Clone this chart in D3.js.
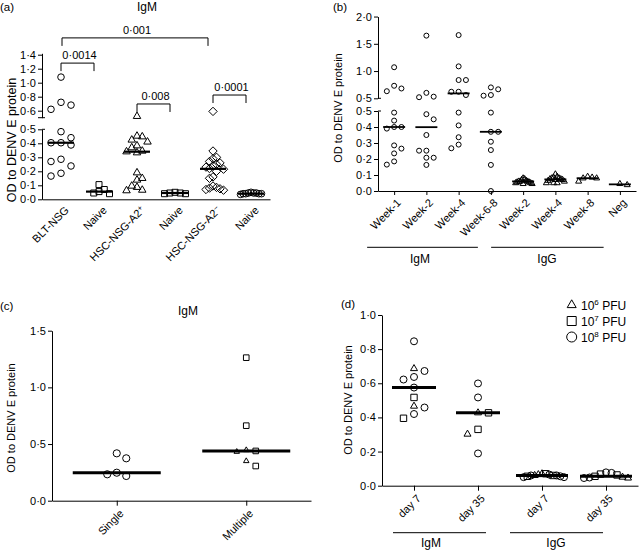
<!DOCTYPE html>
<html><head><meta charset="utf-8">
<script src="https://cdn.jsdelivr.net/npm/d3@7"></script>
<style>body{margin:0;background:#fff} svg text{font-family:"Liberation Sans",Arial,Helvetica,sans-serif;fill:#000}</style>
</head><body><svg id="c" width="640" height="550"></svg>
<script>
// ---------------- DATA ----------------
// Panel (a)
const aKeys = ["BLT","N1","A2p","N2","A2n","N3"];
const aLabels = ["BLT-NSG","Naive","HSC-NSG-A2^+","Naive","HSC-NSG-A2^\u2212","Naive"];
const aShapes = ["circle","square","triangle","square","diamond","circle"];
const aBLT   = [1.08,0.72,0.68,0.62,0.483,0.44,0.404,0.404,0.388,0.286,0.27,0.238,0.186,0.166];
const aNaive1 = [0.105,0.07,0.055,0.045,0.04];
const aA2pos = [0.52,0.452,0.447,0.424,0.41,0.383,0.369,0.345,0.34,0.333,0.19,0.15,0.138,0.095,0.086,0.066,0.062];
const aNaive2 = [0.05,0.045,0.045,0.04,0.04];
const aA2neg = [0.59,0.345,0.30,0.29,0.27,0.26,0.25,0.24,0.23,0.22,0.215,0.2,0.16,0.15,0.095,0.085,0.08,0.075,0.07,0.065];
const aNaive3 = [0.05,0.045,0.045,0.04,0.04,0.04,0.035,0.04,0.045];
const aTicksLow = [0,0.1,0.2,0.3,0.4,0.5];
const aTicksUp = [0.6,0.8,1.0,1.2,1.4];
const aPValues = [
  {from:"BLT", to:"A2n", level:1.64, label:"0\u00b7001"},
  {from:"BLT", to:"N1",  level:1.28, label:"0\u00b70014"},
  {from:"A2p", to:"N2",  level:0.696, label:"0\u00b7008"},
  {from:"A2n", to:"N3",  level:0.824, label:"0\u00b70001"}
];
// Panel (b)
const bKeys = ["mW1","mW2","mW4","mW68","gW2","gW4","gW8","neg"];
const bLabels = ["Week-1","Week-2","Week-4","Week-6-8","Week-2","Week-4","Week-8","Neg"];
const bShapes = ["circle","circle","circle","circle","triangle","triangle","triangle","triangle"];
const bW1 = [1.07,0.73,0.68,0.63,0.49,0.44,0.40,0.40,0.39,0.285,0.265,0.235,0.185,0.165];
const bW2 = [1.65,0.60,0.53,0.52,0.48,0.448,0.35,0.252,0.252,0.208,0.208,0.163];
const bW4 = [1.66,1.086,0.835,0.835,0.62,0.62,0.56,0.49,0.41,0.336,0.29,0.267];
const bW68 = [0.70,0.665,0.56,0.548,0.49,0.37,0.37,0.308,0.256,0.163,0.0];
const bG2 = [0.08,0.075,0.07,0.065,0.06,0.06,0.06,0.055,0.055,0.05,0.05,0.045,0.045];
const bG4 = [0.105,0.09,0.085,0.08,0.08,0.075,0.075,0.07,0.07,0.065,0.06,0.05,0.05,0.05];
const bG8 = [0.09,0.085,0.08,0.08,0.06];
const bNeg = [0.045,0.038];
const bTicksLow = [0,0.1,0.2,0.3,0.4,0.5];
const bTicksUp = [0.5,1.0,1.5,2.0];
// Panel (c)
const cKeys = ["Single","Multiple"];
const cSingleCircles = [0.418,0.374,0.247,0.233,0.218];
const cMultipleSquares = [1.262,0.662,0.439,0.306];
const cMultipleTriangles = [0.447,0.432,0.35];
const cTicks = [0,0.5,1.0,1.5];
// Panel (d)
const dKeys = ["mD7","mD35","gD7","gD35"];
const dLabels = ["day 7","day 35","day 7","day 35"];
const dPFU6 = [[0.686,0.466],[0.427,0.302],[0.07,0.065,0.06],[0.05,0.045]];          // triangles
const dPFU7 = [[0.517,0.395],[0.427,0.33],[0.07,0.06,0.055],[0.068,0.063,0.055]];     // squares
const dPFU8 = [[0.846,0.672,0.637,0.622,0.575,0.458,0.42],[0.599,0.517,0.189],
               [0.065,0.06,0.06,0.055,0.05,0.05],[0.078,0.075,0.048,0.045]];          // circles
const dTicks = [0,0.2,0.4,0.6,0.8,1.0];
const dLegend = [{shape:"triangle",exp:"6"},{shape:"square",exp:"7"},{shape:"circle",exp:"8"}];

// ---------------- HELPERS ----------------
const svg = d3.select("#c");
const fmt = v => d3.format(".1f")(v).replace(".", "\u00b7");

function shapePath(shape, sz){
  const p = d3.path();
  if (shape==="circle"){ const r=sz.circle; p.moveTo(r,0); p.arc(0,0,r,0,2*Math.PI); p.closePath(); }
  else if (shape==="square"){ const h=sz.square; p.rect(-h,-h,2*h,2*h); }
  else if (shape==="triangle"){ const a=sz.triangle, h=a*Math.sqrt(3)/2; p.moveTo(0,-2*h/3); p.lineTo(a/2,h/3); p.lineTo(-a/2,h/3); p.closePath(); }
  else if (shape==="diamond"){ const h=sz.diamond; p.moveTo(0,-h); p.lineTo(h,0); p.lineTo(0,h); p.lineTo(-h,0); p.closePath(); }
  return p.toString();
}

function swarm(pts, yOf, spacing, maxHalf, minDy){
  const items = pts.map(p=>({...p, py:yOf(p.v)})).sort((a,b)=>a.py-b.py);
  const placed=[]; let side=1;
  items.forEach(it=>{
    for (let k=0;k<60;k++){
      const cands = k===0?[0]:[side*k,-side*k];
      let chosen=null;
      for (const c of cands){ if(!placed.some(q=>q.col===c && Math.abs(q.py-it.py)<minDy)){chosen=c;break;} }
      if (chosen!==null){ it.col=chosen; if(chosen!==0) side = chosen>0?-1:1; placed.push(it); break; }
    }
  });
  const maxCol = d3.max(items,d=>Math.abs(d.col))||0;
  const sp = maxCol ? Math.min(spacing, maxHalf/maxCol) : spacing;
  items.forEach(d=>d.dx=d.col*sp);
  return items;
}

function drawGroups(g, groups, x, yOf, o){
  groups.forEach(gr=>{
    const items = swarm(gr.pts, yOf, o.spacing, gr.maxHalf||o.maxHalf, o.minDy);
    g.append("g").selectAll("path").data(items).join("path")
      .attr("d", d=>shapePath(d.shape, o.sizes))
      .attr("transform", d=>`translate(${x(gr.key)+d.dx},${d.py})`)
      .attr("fill","none").attr("stroke","#000").attr("stroke-width",o.markerStroke||1);
    const med = d3.median(gr.pts, p=>p.v);
    const lh = gr.lineHalf||o.lineHalf;
    g.append("line").attr("x1",x(gr.key)-lh).attr("x2",x(gr.key)+lh)
      .attr("y1",yOf(med)).attr("y2",yOf(med))
      .attr("stroke","#000").attr("stroke-width",o.lineW);
  });
}

function yAxis(g, x0, scale, ticks, fs){
  const ax = g.append("g").attr("transform",`translate(${x0},0)`)
    .call(d3.axisLeft(scale).tickValues(ticks).tickFormat(fmt).tickSize(4).tickSizeOuter(0).tickPadding(2));
  ax.selectAll("text").attr("font-size",fs).attr("font-family",null);
  ax.selectAll("path,line").attr("stroke","#000");
  return ax;
}

function xAxis(g, y0, scale, tick){
  const ax = g.append("g").attr("transform",`translate(0,${y0})`)
    .call(d3.axisBottom(scale).tickSize(tick).tickSizeOuter(0).tickFormat(""));
  ax.selectAll("path,line").attr("stroke","#000");
}

function xLabels(g, x, keys, labels, y0, fs, dxo, dyo){
  keys.forEach((k,i)=>{
    const t = g.append("text")
      .attr("transform",`translate(${x(k)+dxo},${y0+dyo})rotate(-45)`)
      .attr("text-anchor","end").attr("font-size",fs).attr("dy","0.71em");
    const parts = labels[i].split("^");
    t.append("tspan").text(parts[0]);
    if (parts[1]) t.append("tspan").attr("font-size",fs*0.7).attr("dy","-0.45em").text(parts[1]);
  });
}

function yTitle(g, x, y, fs){
  g.append("text").attr("transform",`translate(${x},${y})rotate(-90)`)
    .attr("text-anchor","middle").attr("font-size",fs).text("OD to DENV E protein");
}

function txt(g, x, y, s, fs, anchor){
  return g.append("text").attr("x",x).attr("y",y).attr("font-size",fs).attr("text-anchor",anchor||"start").text(s);
}

function hline(g,x1,x2,y,w){ g.append("line").attr("x1",x1).attr("x2",x2).attr("y1",y).attr("y2",y).attr("stroke","#000").attr("stroke-width",w||1); }

// ---------------- PANEL (a) ----------------
{
  const g = svg.append("g");
  const x = d3.scalePoint().domain(aKeys).range([42,270]).padding(0.5);
  const yLow = d3.scaleLinear().domain([0,0.5]).range([199.3,129.3]);
  const yUp = d3.scaleLinear().domain([0.5,1.42]).range([117.7,117.7-0.92*70]);
  const yOf = v => v<=0.5 ? yLow(v) : yUp(v);
  const vals = [aBLT,aNaive1,aA2pos,aNaive2,aA2neg,aNaive3];
  const groups = aKeys.map((k,i)=>({key:k, pts:vals[i].map(v=>({v, shape:aShapes[i]}))}));
  yAxis(g,42,yLow,aTicksLow,11);
  yAxis(g,42,yUp,aTicksUp,11);
  hline(g,38,45,117.7); hline(g,42,45,129.3);
  xAxis(g,199.3,x,0);
  drawGroups(g, groups, x, yOf, {spacing:10, maxHalf:10.5, minDy:7, lineHalf:13, lineW:2.2,
    sizes:{circle:3.3, square:3, triangle:7.5, diamond:4.2}});
  xLabels(g,x,aKeys,aLabels,199.3,11,3,6);
  yTitle(g,16,140,12.5);
  txt(g,0,11,"(a)",11.5);
  txt(g,147,11,"IgM",12,"middle");
  aPValues.forEach(p=>{
    const x1 = x(p.from)+ (p.to==="A2n"?1:0), x2 = x(p.to)-5, y = yUp(p.level);
    g.append("path").attr("d",`M${x1},${y+8}V${y}H${x2}V${y+8}`).attr("fill","none").attr("stroke","#000");
    txt(g,(x1+x2)/2+2,y-4,p.label,11,"middle");
  });
}

// ---------------- PANEL (b) ----------------
{
  const g = svg.append("g");
  const x = d3.scalePoint().domain(bKeys).range([378,636]).padding(0.5);
  const yLow = d3.scaleLinear().domain([0,0.5]).range([191,111]);
  const yUp = d3.scaleLinear().domain([0.5,2.0]).range([98.3,98.3-1.5*54.5]);
  const yOf = v => v<=0.5 ? yLow(v) : yUp(v);
  const vals = [bW1,bW2,bW4,bW68,bG2,bG4,bG8,bNeg];
  const groups = bKeys.map((k,i)=>({key:k, pts:vals[i].map(v=>({v, shape:bShapes[i]}))}));
  yAxis(g,378,yLow,bTicksLow,11);
  yAxis(g,378,yUp,bTicksUp,11);
  hline(g,378,381,98.3); hline(g,378,381,111);
  xAxis(g,191,x,4);
  drawGroups(g, groups, x, yOf, {spacing:7.3, maxHalf:9, minDy:5.5, lineHalf:11, lineW:1.8,
    sizes:{circle:2.5, triangle:6, square:2.5}});
  xLabels(g,x,bKeys,bLabels,191,11,2,7);
  yTitle(g,342,108,11);
  txt(g,333,11,"(b)",11.5);
  hline(g,x("mW1")-27,x("mW68")-13,247.3);
  hline(g,x("gW2")-32,x("gW8")+16,247.3);
  txt(g,420,263,"IgM",12,"middle");
  txt(g,547,263,"IgG",12,"middle");
}

// ---------------- PANEL (c) ----------------
{
  const g = svg.append("g");
  const x = d3.scalePoint().domain(cKeys).range([52,311]).padding(0.5);
  const y = d3.scaleLinear().domain([0,1.5]).range([500.7,330.7]);
  const groups = [
    {key:"Single", pts:cSingleCircles.map(v=>({v,shape:"circle"}))},
    {key:"Multiple", pts:cMultipleSquares.map(v=>({v,shape:"square"})).concat(cMultipleTriangles.map(v=>({v,shape:"triangle"})))}
  ];
  yAxis(g,52,y,cTicks,11);
  xAxis(g,500.7,x,5);
  drawGroups(g, groups, x, y, {spacing:9.5, maxHalf:12, minDy:7, lineHalf:44, lineW:3,
    sizes:{circle:3.6, square:2.8, triangle:5.5}});
  xLabels(g,x,cKeys,cKeys,500.7,11,2,8);
  yTitle(g,15,418,11);
  txt(g,0,310,"(c)",11.5);
  txt(g,188,315,"IgM",12,"middle");
}

// ---------------- PANEL (d) ----------------
{
  const g = svg.append("g");
  const x = d3.scalePoint().domain(dKeys).range([382,638]).padding(0.5);
  const y = d3.scaleLinear().domain([0,1]).range([485.7,315]);
  const groups = dKeys.map((k,i)=>({
    key:k,
    maxHalf: i>=2?22:11,
    lineHalf: i>=2?26:22,
    pts: dPFU6[i].map(v=>({v,shape:"triangle"}))
      .concat(dPFU7[i].map(v=>({v,shape:"square"})))
      .concat(dPFU8[i].map(v=>({v,shape:"circle"})))
  }));
  yAxis(g,382,y,dTicks,11);
  xAxis(g,485.7,x,5);
  drawGroups(g, groups, x, y, {spacing:10.5, maxHalf:11, minDy:7, lineHalf:22, lineW:3,
    sizes:{circle:3.5, square:3.2, triangle:7}});
  xLabels(g,x,dKeys,dLabels,485.7,11,2,8);
  yTitle(g,352,400,11);
  txt(g,341,308,"(d)",11.5);
  hline(g,x("mD7")-21,x("mD35")+8,532.7);
  hline(g,x("gD7")-32,x("gD35")-3,532.7);
  txt(g,431,547,"IgM",12,"middle");
  txt(g,556,547,"IgG",12,"middle");
  dLegend.forEach((L,i)=>{
    const yy = 305 + i*16;
    g.append("path").attr("d",shapePath(L.shape,{circle:5,square:4.5,triangle:9}))
      .attr("transform",`translate(571.7,${yy})`).attr("fill","none").attr("stroke","#000");
    const t = g.append("text").attr("x",581).attr("y",yy+4.5).attr("font-size",12);
    t.append("tspan").text("10");
    t.append("tspan").attr("font-size",8).attr("dy",-5).text(L.exp);
    t.append("tspan").attr("dy",5).text(" PFU");
  });
}
</script></body></html>
